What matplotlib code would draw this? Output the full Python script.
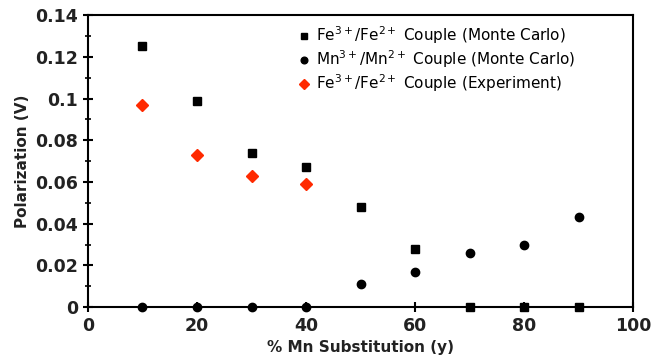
import numpy as np
import matplotlib
matplotlib.use("Agg")
from matplotlib import pyplot as plt
from matplotlib.ticker import MultipleLocator

plt.rcParams["mathtext.default"] = "regular"

# % Mn substitution
mn_sub = [10, 20, 30, 40, 50, 60, 70, 80, 90]
fe_mc = [0.125, 0.099, 0.074, 0.067, 0.048, 0.028, 0.0, 0.0, 0.0]
mn_mc = [0.0, 0.0, 0.0, 0.0, 0.011, 0.017, 0.026, 0.030, 0.043]
exp_sub = [10, 20, 30, 40]
fe_exp = [0.097, 0.073, 0.063, 0.059]

fig = plt.figure(figsize=(6.69, 3.6), dpi=100, facecolor="w")
ax = fig.add_axes([0.1315, 0.147, 0.815, 0.811])

ax.plot(mn_sub, fe_mc, "s", color="black", markersize=6, clip_on=False, zorder=3,
        label="Fe$^{3+}$/Fe$^{2+}$ Couple (Monte Carlo)")
ax.plot(mn_sub, mn_mc, "o", color="black", markersize=6, clip_on=False, zorder=3,
        label="Mn$^{3+}$/Mn$^{2+}$ Couple (Monte Carlo)")
ax.plot(exp_sub, fe_exp, "D", color="#ff2a00", markersize=6.5, clip_on=False, zorder=3,
        label="Fe$^{3+}$/Fe$^{2+}$ Couple (Experiment)")

ax.set_xlim(0, 100)
ax.set_ylim(0, 0.14)
ax.xaxis.set_major_locator(MultipleLocator(20))
ax.xaxis.set_minor_locator(MultipleLocator(10))
ax.yaxis.set_minor_locator(MultipleLocator(0.01))
ax.set_yticks(np.arange(0, 0.141, 0.02))
ax.set_yticklabels(["0", "0.02", "0.04", "0.06", "0.08", "0.1", "0.12", "0.14"])
ax.tick_params(which="major", direction="inout", length=7, width=1.5, labelsize=12.5)
ax.tick_params(which="minor", direction="inout", length=5, width=1.2)
ax.tick_params(axis="x", which="minor", length=0)
for lab in ax.get_xticklabels() + ax.get_yticklabels():
    lab.set_fontweight("bold")
    lab.set_color("#222222")
for sp in ax.spines.values():
    sp.set_linewidth(1.5)

ax.set_xlabel("% Mn Substitution (y)", fontsize=11, fontweight="bold", color="#222222")
ax.set_ylabel("Polarization (V)", fontsize=11, fontweight="bold", color="#222222")

ax.legend(loc="upper right", frameon=False, fontsize=11, handletextpad=0.3,
          borderaxespad=0.2, labelspacing=0.15, handlelength=1.0, markerscale=0.8,
          bbox_to_anchor=(0.91, 1.0))

fig.savefig("out.png", dpi=100)
